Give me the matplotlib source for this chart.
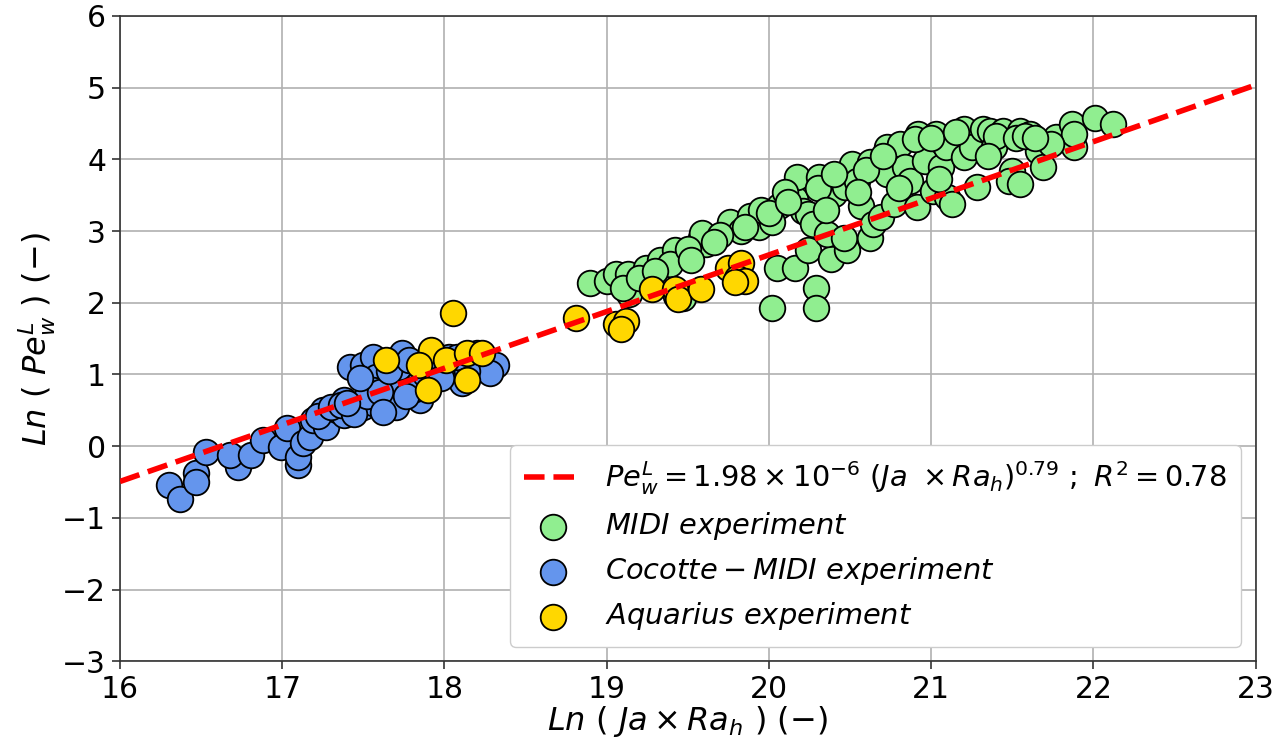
import numpy as np
import matplotlib
matplotlib.use("Agg")
import matplotlib.pyplot as plt

# Fit parameters
fit_coef = 1.98e-6
fit_exp = 0.79
fit_r2 = 0.78
x_line = [16, 23]

# MIDI experiment (green)
midi_x = [18.90, 19.00, 19.06, 19.13, 19.14, 19.24, 19.33, 19.42, 19.39, 19.43, 19.47,
          19.58, 19.61, 19.59, 19.76, 19.88, 19.83, 19.94, 20.06, 20.02, 20.05, 20.02,
          20.16, 20.16, 20.21, 20.17, 20.24, 20.27, 20.31, 20.29, 20.29, 20.24, 20.38,
          20.48, 20.40, 20.36, 20.46, 20.47, 20.51, 20.57, 20.54, 20.62, 20.62, 20.64,
          20.73, 20.73, 20.69, 20.77, 20.81, 20.84, 20.87, 20.91, 20.92, 20.96, 21.01,
          21.03, 21.06, 21.09, 21.10, 21.13, 21.20, 21.20, 21.25, 21.28, 21.32, 21.36,
          21.39, 21.44, 21.50, 21.48, 21.55, 21.55, 21.61, 21.66, 21.69, 21.77, 21.87,
          21.88, 22.01, 22.12, 21.88, 21.74, 19.10, 19.20, 19.50, 19.70, 19.95, 20.10,
          20.30, 20.40, 20.60, 20.70, 20.90, 21.00, 21.15, 21.40, 21.52, 21.58, 21.64,
          19.30, 19.52, 19.66, 19.85, 20.00, 20.12, 20.35, 20.55, 20.80, 21.05, 21.35]
midi_y = [2.28, 2.30, 2.40, 2.40, 2.12, 2.49, 2.59, 2.73, 2.54, 2.10, 2.07,
          2.91, 2.82, 2.98, 3.12, 3.21, 3.00, 3.05, 3.35, 3.12, 2.49, 1.93,
          2.49, 3.45, 3.28, 3.75, 3.24, 3.10, 3.75, 2.21, 1.93, 2.73, 2.61,
          2.73, 3.52, 2.96, 2.91, 3.61, 3.94, 3.35, 3.70, 3.96, 2.91, 3.10,
          4.17, 3.80, 3.19, 3.38, 4.22, 3.89, 3.70, 3.33, 4.36, 3.98, 3.56,
          4.36, 3.89, 4.17, 3.47, 3.38, 4.43, 4.03, 4.17, 3.61, 4.43, 4.40,
          4.17, 4.40, 3.84, 3.70, 4.40, 3.66, 4.36, 4.12, 3.89, 4.31, 4.50,
          4.17, 4.58, 4.50, 4.36, 4.22, 2.20, 2.35, 2.75, 2.95, 3.30, 3.55,
          3.60, 3.80, 3.85, 4.05, 4.28, 4.30, 4.38, 4.32, 4.30, 4.33, 4.30,
          2.45, 2.60, 2.85, 3.05, 3.25, 3.40, 3.30, 3.55, 3.60, 3.72, 4.05]

# Cocotte-MIDI experiment (blue)
coc_x = [16.30, 16.37, 16.47, 16.47, 16.53, 16.73, 16.68, 16.81, 16.88, 16.99, 17.03,
         17.10, 17.10, 17.13, 17.17, 17.19, 17.25, 17.27, 17.34, 17.38, 17.38, 17.46,
         17.50, 17.42, 17.50, 17.56, 17.58, 17.56, 17.56, 17.64, 17.68, 17.70, 17.72,
         17.74, 17.85, 17.84, 17.91, 17.93, 18.01, 18.03, 18.11, 18.16, 18.24, 18.32,
         18.28, 18.20, 17.22, 17.30, 17.36, 17.44, 17.52, 17.60, 17.66, 17.78, 17.82,
         17.88, 17.96, 18.06, 18.14, 17.62, 17.76, 17.98, 18.08, 17.48, 17.40]
coc_y = [-0.54, -0.73, -0.38, -0.50, -0.08, -0.29, -0.12, -0.12, 0.09, -0.01, 0.25,
         -0.26, -0.15, 0.04, 0.13, 0.37, 0.50, 0.27, 0.50, 0.43, 0.64, 0.50,
         0.55, 1.11, 1.13, 1.25, 0.97, 0.78, 0.60, 0.64, 0.88, 0.55, 1.11,
         1.30, 0.64, 0.88, 1.11, 1.30, 1.02, 1.25, 0.88, 1.11, 1.20, 1.13,
         1.02, 1.30, 0.42, 0.55, 0.58, 0.45, 0.70, 0.75, 1.05, 1.20, 0.80,
         1.00, 1.22, 1.15, 1.05, 0.48, 0.70, 0.95, 1.25, 0.95, 0.60]

# Aquarius experiment (yellow)
aq_x = [18.05, 17.64, 17.92, 17.84, 18.01, 18.14, 18.23, 18.14, 17.90,
        18.81, 19.06, 19.12, 19.09, 19.28, 19.42, 19.44, 19.58, 19.75, 19.83,
        19.80, 19.85, 19.79]
aq_y = [1.86, 1.20, 1.34, 1.13, 1.20, 1.30, 1.30, 0.92, 0.78,
        1.79, 1.70, 1.75, 1.63, 2.19, 2.19, 2.05, 2.19, 2.49, 2.56,
        2.35, 2.31, 2.29]

plt.rcParams['font.family'] = ['DejaVu Sans']
fig = plt.figure(figsize=(12.79, 7.43), dpi=100)
ax = fig.add_axes([0.0938, 0.110, 0.888, 0.8685])

xl = np.array(x_line, dtype=float)
yl = np.log(fit_coef) + fit_exp * xl
ax.plot(xl, yl, color='red', linestyle='--', linewidth=4, zorder=5,
        label=r'$Pe_w^L = 1.98 \times 10^{-6}\ (Ja\ \times Ra_h)^{0.79}\ ;\ R^2 = 0.78$')

ms = 340
ax.scatter(midi_x, midi_y, s=ms, c='#90EE90', edgecolors='black', linewidths=1.3,
           zorder=3, label=r'$MIDI\ experiment$')
ax.scatter(coc_x, coc_y, s=ms, c='#6495ED', edgecolors='black', linewidths=1.3,
           zorder=3, label=r'$Cocotte-MIDI\ experiment$')
ax.scatter(aq_x, aq_y, s=ms, c='#FFD700', edgecolors='black', linewidths=1.3,
           zorder=4, label=r'$Aquarius\ experiment$')

ax.set_xlim(16, 23)
ax.set_ylim(-3, 6)
ax.set_xticks(range(16, 24))
ax.set_yticks(range(-3, 7))
ax.grid(True, color='#b0b0b0', linewidth=1.2, zorder=0)
ax.set_axisbelow(True)
ax.tick_params(labelsize=21.5, length=6, width=1.2, color='#333333', pad=4)
for sp in ax.spines.values():
    sp.set_linewidth(1.2)
    sp.set_color('#333333')

ax.set_xlabel(r'$Ln\ (\ Ja \times Ra_h\ )\ (-)$', fontsize=23, labelpad=0)
ax.set_ylabel(r'$Ln\ (\ Pe_w^L\ )\ (-)$', fontsize=23, labelpad=3)

ax.legend(loc='lower right', fontsize=20.8, borderpad=0.5, labelspacing=0.45,
          handletextpad=0.8, framealpha=1.0, edgecolor='#cccccc')

fig.savefig('out.png', dpi=100)
